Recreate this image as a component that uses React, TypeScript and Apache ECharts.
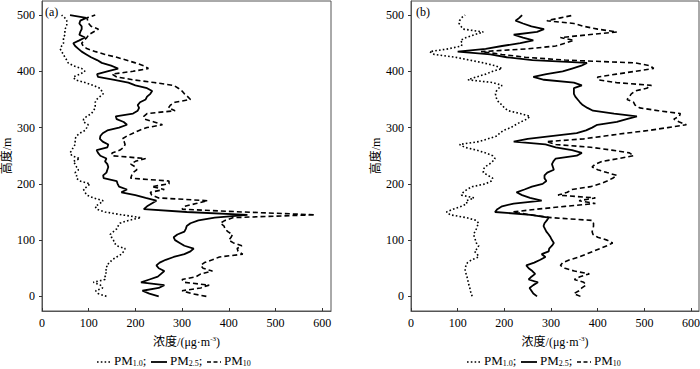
import React, { useEffect, useRef } from "react";
import * as echarts from "echarts";

// heights (m), shared by all profiles
const heights = [
  0, 5, 10, 15, 20, 25, 30, 35, 40, 45,
  50, 55, 60, 65, 70, 75, 80, 85, 90, 95,
  100, 105, 110, 115, 120, 125, 130, 135, 140, 145,
  150, 155, 160, 165, 170, 175, 180, 185, 190, 195,
  200, 205, 210, 215, 220, 225, 230, 235, 240, 245,
  250, 255, 260, 265, 270, 275, 280, 285, 290, 295,
  300, 305, 310, 315, 320, 325, 330, 335, 340, 345,
  350, 355, 360, 365, 370, 375, 380, 385, 390, 395,
  400, 405, 410, 415, 420, 425, 430, 435, 440, 445,
  450, 455, 460, 465, 470, 475, 480, 485, 490, 495,
  500,
];

// panel (a)
const pm1A = [
  138, 120, 115, 130, 125, 110, 135, 135, 138, 135,
  140, 138, 145, 150, 160, 170, 175, 178, 160, 155,
  153, 149, 146, 153, 160, 163, 167, 185, 212, 170,
  135, 117, 114, 124, 131, 110, 96, 92, 89, 96,
  103, 81, 74, 74, 71, 78, 74, 71, 67, 81,
  64, 60, 64, 67, 71, 71, 71, 74, 81, 92,
  96, 99, 89, 89, 96, 106, 110, 114, 114, 114,
  117, 124, 131, 128, 124, 110, 92, 71, 67, 81,
  92, 85, 67, 56, 53, 49, 46, 42, 39, 42,
  46, 46, 46, 49, 49, 49, 53, 53, 53, 49,
  42,
];
const pm25A = [
  250, 230, 215, 250, 262, 212, 230, 248, 255, 262,
  250, 245, 252, 265, 282, 305, 318, 325, 305, 295,
  285, 282, 290, 305, 308, 310, 318, 335, 370, 440,
  310, 218, 225, 235, 245, 222, 200, 170, 182, 165,
  162, 160, 132, 131, 138, 140, 142, 140, 135, 138,
  125, 120, 117, 140, 142, 130, 124, 125, 130, 140,
  165, 182, 175, 160, 158, 195, 205, 208, 205, 210,
  222, 225, 232, 236, 225, 200, 185, 155, 120, 118,
  140, 163, 148, 128, 118, 105, 95, 85, 78, 71,
  67, 80, 92, 80, 82, 85, 85, 80, 82, 95,
  60,
];
const pm10A = [
  352, 320, 300, 340, 358, 305, 300, 330, 340, 365,
  345, 340, 348, 365, 380, 430, 420, 418, 428, 410,
  400, 405, 408, 398, 392, 390, 382, 392, 410, 585,
  430, 300, 305, 330, 355, 250, 235, 232, 262, 235,
  272, 272, 190, 192, 195, 203, 200, 190, 200, 222,
  150, 150, 167, 175, 178, 176, 172, 182, 195, 208,
  225, 258, 240, 220, 218, 225, 285, 271, 275, 285,
  318, 312, 305, 300, 292, 282, 240, 195, 160, 150,
  195, 228, 218, 200, 180, 160, 135, 115, 97, 88,
  85, 90, 96, 100, 110, 121, 105, 100, 98, 96,
  114,
];

// panel (b)
const pm1B = [
  131, 129, 127, 126, 124, 123, 121, 120, 118, 116,
  116, 118, 121, 130, 145, 142, 136, 142, 145, 140,
  138, 136, 134, 137, 140, 142, 145, 140, 118, 84,
  76, 90, 108, 120, 118, 135, 108, 112, 120, 131,
  160, 172, 175, 165, 155, 155, 158, 168, 175, 180,
  175, 160, 140, 115, 104, 145, 165, 184, 190, 198,
  214, 224, 235, 248, 255, 234, 208, 200, 195, 188,
  184, 182, 181, 183, 188, 195, 175, 122, 140, 160,
  175, 195, 180, 155, 125, 95, 50, 40, 80, 108,
  110, 106, 118, 135, 155, 112, 107, 103, 104, 108,
  116,
];
const pm25B = [
  270, 262, 258, 254, 262, 272, 252, 258, 266, 260,
  252, 247, 264, 277, 288, 280, 295, 296, 302, 306,
  302, 299, 295, 290, 287, 284, 286, 291, 295, 256,
  180, 185, 195, 220, 280, 255, 238, 226, 243, 259,
  282, 290, 286, 286, 292, 306, 304, 302, 305, 310,
  355, 366, 345, 310, 288, 220, 250, 300, 355, 375,
  388, 399, 441, 462, 484, 435, 390, 378, 368, 362,
  357, 352, 349, 349, 349, 366, 349, 285, 262, 290,
  325, 345, 365, 377, 260, 205, 170, 100, 160, 195,
  234, 262, 240, 220, 270, 285, 258, 240, 224, 232,
  238,
];
const pm10B = [
  363, 349, 360, 366, 375, 370, 350, 362, 382, 350,
  330, 320, 325, 340, 360, 375, 390, 405, 420, 432,
  420, 400, 390, 388, 390, 391, 391, 388, 300, 255,
  218, 270, 330, 395, 360, 395, 315, 335, 345, 385,
  405, 420, 432, 441, 420, 400, 388, 395, 410, 445,
  477, 468, 430, 385, 310, 290, 370, 415, 460, 510,
  550, 590, 575, 563, 575, 577, 530, 490, 480, 477,
  463, 468, 472, 480, 505, 515, 440, 400, 400, 440,
  480, 520, 512, 480, 330, 245, 195, 150, 250, 310,
  330, 349, 320, 380, 441, 400, 370, 349, 291, 320,
  349,
];

const xTicks = [0, 100, 200, 300, 400, 500, 600];
const yTicks = [0, 100, 200, 300, 400, 500];
const panelLabels = ["(a)", "(b)"];

const FONT = "'Liberation Serif', 'Times New Roman', 'Noto Sans CJK SC', serif";
const FRAME = "#555";

const styleDotted = { color: "#000", width: 1.6, type: [1.6, 2.2] };
const styleSolid = { color: "#000", width: 1.8, type: "solid" };
const styleDashed = { color: "#000", width: 1.6, type: [5, 3] };

function buildSeries(name: string, vals: number[], idx: number, lineStyle: any) {
  return {
    name,
    type: "line",
    xAxisIndex: idx,
    yAxisIndex: idx,
    symbol: "none",
    showSymbol: false,
    silent: true,
    data: vals.map((v, i) => [v, heights[i]]),
    lineStyle,
  };
}

const subRich = {
  s: { fontSize: 8, lineHeight: 7, verticalAlign: "bottom", fontFamily: FONT, color: "#000" },
};

function legendGroup(x0: number, y: number) {
  const txt = (x: number, text: string) => ({
    type: "text",
    x,
    y: y - 8,
    style: {
      text,
      fontSize: 13,
      lineHeight: 13,
      fontFamily: FONT,
      fill: "#000",
      rich: subRich,
      align: "left",
      verticalAlign: "top",
    },
  });
  const ln = (a: number, b: number, dash: any, w: number) => ({
    type: "line",
    shape: { x1: x0 + a, y1: y, x2: x0 + b, y2: y },
    style: { stroke: "#000", lineWidth: w, lineDash: dash },
  });
  return [
    ln(0, 13, [1.6, 2.2], 1.6),
    txt(x0 + 17, "PM{s|1.0};"),
    ln(54, 70, null, 1.8),
    txt(x0 + 73, "PM{s|2.5};"),
    ln(110, 124, [4, 2.5], 1.6),
    txt(x0 + 127, "PM{s|10}"),
  ];
}

export default function App() {
  const ref = useRef<HTMLDivElement>(null);
  useEffect(() => {
    if (!ref.current) return;
    const chart = echarts.init(ref.current, null, { renderer: "svg" });
    const grids = [
      { left: 42, top: 1, width: 289, height: 310 },
      { left: 411, top: 1, width: 288, height: 310 },
    ];
    const option: any = {
      animation: false,
      backgroundColor: "#fff",
      grid: grids.map((g) => ({
        ...g,
        show: true,
        borderColor: FRAME,
        borderWidth: 1,
        containLabel: false,
        outerBoundsMode: "none",
      })),
      xAxis: grids.map((g, i) => ({
        gridIndex: i,
        type: "value",
        min: 0,
        max: i === 0 ? 619 : 617,
        axisLine: { show: true, onZero: false, lineStyle: { color: FRAME, width: 1 } },
        axisTick: { show: true, inside: true, length: 3, customValues: xTicks, lineStyle: { color: "#333" } },
        axisLabel: { customValues: xTicks, margin: 6, fontSize: 12, fontFamily: FONT, color: "#000" },
        splitLine: { show: false },
        name: "浓度/(μg·m{sup|-3})",
        nameLocation: "middle",
        nameGap: 24,
        nameTextStyle: {
          fontSize: 12,
          lineHeight: 14,
          fontFamily: FONT,
          color: "#000",
          rich: { sup: { fontSize: 7, lineHeight: 8, verticalAlign: "top", fontFamily: FONT, color: "#000" } },
        },
      })),
      yAxis: grids.map((g, i) => ({
        gridIndex: i,
        type: "value",
        min: -26,
        max: 525,
        axisLine: { show: true, onZero: false, lineStyle: { color: FRAME, width: 1 } },
        axisTick: { show: true, inside: false, length: 3, customValues: yTicks, lineStyle: { color: "#333" } },
        axisLabel: { customValues: yTicks, margin: 7, fontSize: 12, fontFamily: FONT, color: "#000" },
        splitLine: { show: false },
        name: "高度/m",
        nameLocation: "middle",
        nameRotate: 90,
        nameGap: 29,
        nameTextStyle: { fontSize: 12, fontFamily: FONT, color: "#000" },
      })),
      series: [
        buildSeries("PM1.0 a", pm1A, 0, styleDotted),
        buildSeries("PM2.5 a", pm25A, 0, styleSolid),
        buildSeries("PM10 a", pm10A, 0, styleDashed),
        buildSeries("PM1.0 b", pm1B, 1, styleDotted),
        buildSeries("PM2.5 b", pm25B, 1, styleSolid),
        buildSeries("PM10 b", pm10B, 1, styleDashed),
      ],
      graphic: [
        {
          type: "text",
          x: 45,
          y: 6,
          style: { text: panelLabels[0], fontSize: 12, fontFamily: FONT, fill: "#000" },
        },
        {
          type: "text",
          x: 416,
          y: 6,
          style: { text: panelLabels[1], fontSize: 12, fontFamily: FONT, fill: "#000" },
        },
        ...legendGroup(97, 362),
        ...legendGroup(467, 362),
      ],
    };
    chart.setOption(option);
    return () => chart.dispose();
  }, []);
  return (
    <div
      ref={ref}
      style={{ position: "absolute", left: 0, top: 0, width: 700, height: 369 }}
    />
  );
}
